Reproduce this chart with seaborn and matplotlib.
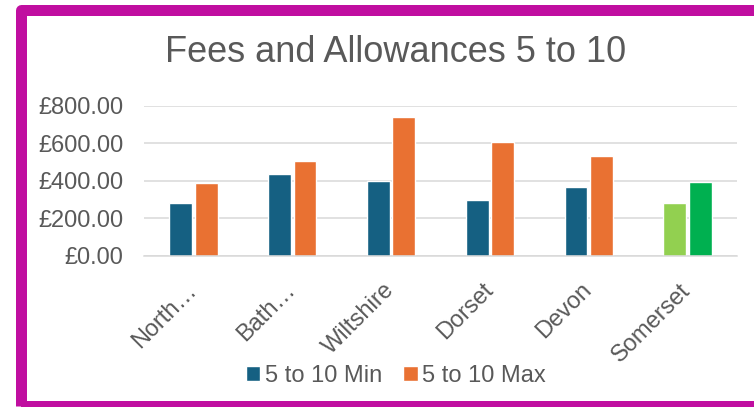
import pandas as pd
import numpy as np
import matplotlib
matplotlib.use("Agg")
import matplotlib.pyplot as plt
from matplotlib.patches import Patch, Rectangle
from matplotlib.transforms import ScaledTranslation
import seaborn as sns

# data
areas = ['North\u2026', 'Bath\u2026', 'Wiltshire', 'Dorset', 'Devon', 'Somerset']
min_fee = [280, 434, 396, 295, 364, 280]
max_fee = [387, 504, 740, 605, 530, 392]
series = ['5 to 10 Min', '5 to 10 Max']
yticks = [0, 200, 400, 600, 800]

blue = '#156082'
orange = '#E97132'
lightgreen = '#92D050'
green = '#00B050'
grey_txt = '#595959'
magenta = '#C00EA0'

df = pd.DataFrame({'Area': areas * 2,
                   'Fee': min_fee + max_fee,
                   'Series': [series[0]] * len(areas) + [series[1]] * len(areas)})

sns.set_style('white')
plt.rcParams['font.family'] = ['Liberation Sans', 'DejaVu Sans']

fig = plt.figure(figsize=(7.54, 4.07), dpi=100)
ax = fig.add_axes([144/754, 1 - 255.7/407, (737-144)/754, 150/407])

sns.barplot(data=df, x='Area', y='Fee', hue='Series', order=areas, hue_order=series,
            palette=[blue, orange], saturation=1, width=0.516, gap=0.1,
            legend=False, ax=ax)

# Somerset is drawn in greens
ax.containers[0][5].set_facecolor(lightgreen)
ax.containers[1][5].set_facecolor(green)

ax.set_ylim(0, 800)
ax.set_xlim(-0.5, len(areas) - 0.5)
ax.set_yticks(yticks)
ax.set_yticklabels(['\u00a3%.2f' % v for v in yticks], fontsize=17, color=grey_txt)
ax.set_xticks(range(len(areas)))
ax.set_xticklabels(areas, fontsize=17, color=grey_txt, rotation=45,
                   ha='right', va='top', rotation_mode='anchor')
ax.tick_params(axis='y', length=0, pad=15)
ax.tick_params(axis='x', length=0, pad=9)
# nudge the slanted labels down-left a bit, like the original
shift = ScaledTranslation(-0.08, -0.11, fig.dpi_scale_trans)
for lab in ax.get_xticklabels():
    lab.set_transform(lab.get_transform() + shift)
ax.set_xlabel('')
ax.set_ylabel('')

ax.yaxis.grid(True, color='#D9D9D9', linewidth=1.1)
ax.set_axisbelow(True)
for s in ['top', 'right', 'left']:
    ax.spines[s].set_visible(False)
ax.spines['bottom'].set_color('#D9D9D9')
ax.spines['bottom'].set_linewidth(1.1)

fig.text(396/754, 1 - 62.3/407, 'Fees and Allowances 5 to 10', ha='center', va='baseline',
         fontsize=26, color=grey_txt)

handles = [Patch(facecolor=blue), Patch(facecolor=orange)]
fig.legend(handles, series, loc='center', bbox_to_anchor=(396/754, 1 - 376/407), ncol=2,
           frameon=False, fontsize=17, labelcolor=grey_txt, handlelength=0.6, handleheight=0.6,
           handletextpad=0.2, columnspacing=0.9, borderpad=0)

# magenta frame round the chart (right side runs off the picture)
W, H = 754, 407
frame = Rectangle((20.5/W, 1 - 405.5/H), (800 - 20.5)/W, (405.5 - 9.5)/H,
                  transform=fig.transFigure, fill=False, edgecolor=magenta,
                  linewidth=11*72/100, joinstyle='round', clip_on=False)
fig.patches.append(frame)

fig.savefig('out.png', dpi=100)
